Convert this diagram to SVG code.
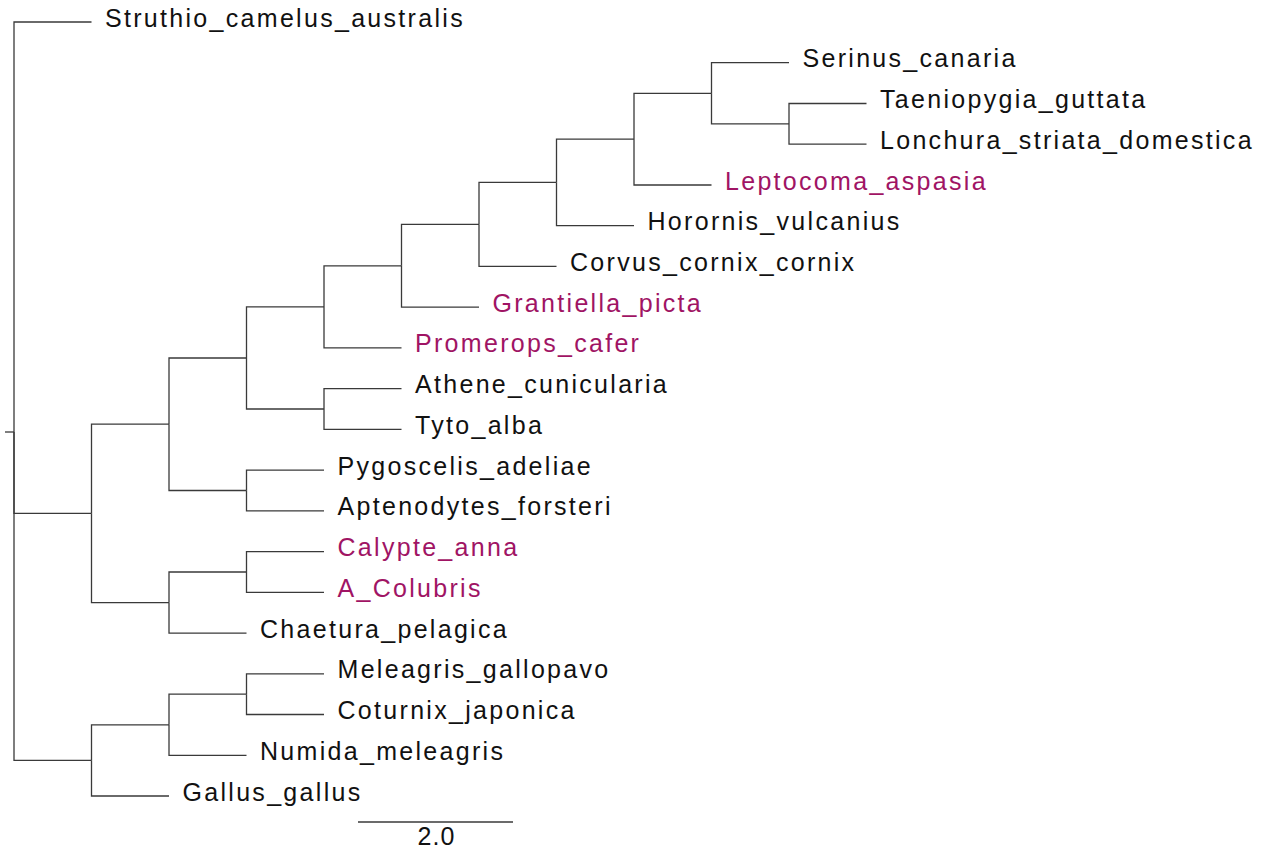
<svg xmlns="http://www.w3.org/2000/svg" width="1266" height="851" viewBox="0 0 1266 851">
<style>
.e{fill:none;stroke:#3a3a3a;stroke-width:1.3}
.t{font-family:"Liberation Sans",Arial,sans-serif;font-size:25px;letter-spacing:2.3px;fill:#111}
.m{fill:#a01464}
</style>
<rect width="1266" height="851" fill="#fff"/>
<g id="connectors">
<path class="e" d="M5 432H14"/>
<path class="e" d="M14 431.9V22H91.5"/>
<path class="e" d="M14 431.9V513.4H91.5"/>
<path class="e" d="M14 431.9V760.4H91.5"/>
<path class="e" d="M91.5 513.4V424.2H169"/>
<path class="e" d="M91.5 513.4V602.6H169"/>
<path class="e" d="M169 424.2V358H246.5"/>
<path class="e" d="M169 424.2V490.5H246.5"/>
<path class="e" d="M246.5 358V306.9H324"/>
<path class="e" d="M246.5 358V409H324"/>
<path class="e" d="M324 306.9V265.8H401.5"/>
<path class="e" d="M324 306.9V347.9H401.5"/>
<path class="e" d="M401.5 265.8V224.4H479"/>
<path class="e" d="M401.5 265.8V307.2H479"/>
<path class="e" d="M479 224.4V182.4H556.5"/>
<path class="e" d="M479 224.4V266.4H556.5"/>
<path class="e" d="M556.5 182.4V139.1H634"/>
<path class="e" d="M556.5 182.4V225.7H634"/>
<path class="e" d="M634 139.1V93.3H711.5"/>
<path class="e" d="M634 139.1V185H711.5"/>
<path class="e" d="M711.5 93.3V62.7H789"/>
<path class="e" d="M711.5 93.3V123.9H789"/>
<path class="e" d="M789 123.9V103.5H866.5"/>
<path class="e" d="M789 123.9V144.2H866.5"/>
<path class="e" d="M324 409V388.6H401.5"/>
<path class="e" d="M324 409V429.4H401.5"/>
<path class="e" d="M246.5 490.5V470.1H324"/>
<path class="e" d="M246.5 490.5V510.8H324"/>
<path class="e" d="M169 602.6V572H246.5"/>
<path class="e" d="M169 602.6V633.1H246.5"/>
<path class="e" d="M246.5 572V551.6H324"/>
<path class="e" d="M246.5 572V592.3H324"/>
<path class="e" d="M91.5 760.4V724.8H169"/>
<path class="e" d="M91.5 760.4V796H169"/>
<path class="e" d="M169 724.8V694.2H246.5"/>
<path class="e" d="M169 724.8V755.3H246.5"/>
<path class="e" d="M246.5 694.2V673.8H324"/>
<path class="e" d="M246.5 694.2V714.5H324"/>
</g>
<g id="n-struthio"><text class="t" x="105" y="26.5">Struthio_camelus_australis</text></g>
<g id="n-serinus"><text class="t" x="802.5" y="67.2">Serinus_canaria</text></g>
<g id="n-taeniopygia"><text class="t" x="880" y="108">Taeniopygia_guttata</text></g>
<g id="n-lonchura"><text class="t" x="880" y="148.7">Lonchura_striata_domestica</text></g>
<g id="n-leptocoma"><text class="t m" x="725" y="189.5">Leptocoma_aspasia</text></g>
<g id="n-horornis"><text class="t" x="647.5" y="230.2">Horornis_vulcanius</text></g>
<g id="n-corvus"><text class="t" x="570" y="270.9">Corvus_cornix_cornix</text></g>
<g id="n-grantiella"><text class="t m" x="492.5" y="311.7">Grantiella_picta</text></g>
<g id="n-promerops"><text class="t m" x="415" y="352.4">Promerops_cafer</text></g>
<g id="n-athene"><text class="t" x="415" y="393.1">Athene_cunicularia</text></g>
<g id="n-tyto"><text class="t" x="415" y="433.9">Tyto_alba</text></g>
<g id="n-pygoscelis"><text class="t" x="337.5" y="474.6">Pygoscelis_adeliae</text></g>
<g id="n-aptenodytes"><text class="t" x="337.5" y="515.3">Aptenodytes_forsteri</text></g>
<g id="n-calypte"><text class="t m" x="337.5" y="556.1">Calypte_anna</text></g>
<g id="n-colubris"><text class="t m" x="337.5" y="596.8">A_Colubris</text></g>
<g id="n-chaetura"><text class="t" x="260" y="637.6">Chaetura_pelagica</text></g>
<g id="n-meleagris"><text class="t" x="337.5" y="678.3">Meleagris_gallopavo</text></g>
<g id="n-coturnix"><text class="t" x="337.5" y="719">Coturnix_japonica</text></g>
<g id="n-numida"><text class="t" x="260" y="759.8">Numida_meleagris</text></g>
<g id="n-gallus"><text class="t" x="182.5" y="800.5">Gallus_gallus</text></g>
<g id="scale">
<path class="e" d="M358 822H513"/>
<text class="t" x="436.5" y="845" text-anchor="middle" style="letter-spacing:1px">2.0</text>
</g>
</svg>
